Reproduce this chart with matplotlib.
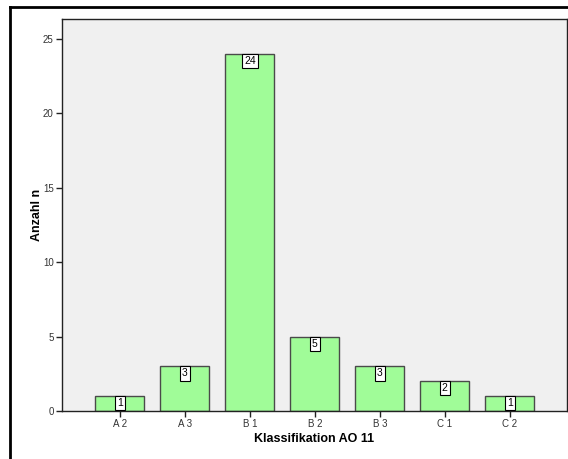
import matplotlib
matplotlib.use("Agg")
import matplotlib.pyplot as plt
from matplotlib.lines import Line2D

categories = ["A 2", "A 3", "B 1", "B 2", "B 3", "C 1", "C 2"]
counts = [1, 3, 24, 5, 3, 2, 1]
yticks = [0, 5, 10, 15, 20, 25]

plt.rcParams['font.family'] = ['Liberation Sans', 'DejaVu Sans']

fig = plt.figure(figsize=(5.68, 4.59), dpi=100)
ax = fig.add_axes([62/568, 1-411/459, 505/568, (411-19)/459])
ax.set_facecolor('#F0F0F0')

x = list(range(len(categories)))
ax.bar(x, counts, width=0.75, color='#A0FC98', edgecolor='#4a4a4a', linewidth=1.0, zorder=2)

for xi, c in zip(x, counts):
    ax.annotate(str(c), (xi, c), xytext=(0, -1.5), textcoords='offset points',
                ha='center', va='top', fontsize=7.5, zorder=3,
                bbox=dict(boxstyle='square,pad=0.2', facecolor='white', edgecolor='black', linewidth=0.8))

ax.set_xlim(-0.89, 6.88)
ax.set_ylim(0, 26.34)
ax.set_xticks(x)
ax.set_xticklabels(categories, fontsize=7, color='#333333')
ax.set_yticks(yticks)
ax.set_yticklabels([str(t) for t in yticks], fontsize=7, color='#333333')
ax.tick_params(axis='both', direction='out', length=4, width=1, colors='#222222', labelcolor='#333333', pad=2)
for s in ax.spines.values():
    s.set_color('#222222')
    s.set_linewidth(1.0)

ax.set_xlabel('Klassifikation AO 11', fontsize=9, fontweight='bold', labelpad=3)
ax.set_ylabel('Anzahl n', fontsize=9, fontweight='bold', labelpad=0)

# outer frame
fig.add_artist(Line2D([10/568, 1], [1-7/459, 1-7/459], color='black', lw=2, transform=fig.transFigure))
fig.add_artist(Line2D([10/568, 10/568], [0, 1-7/459], color='black', lw=2, transform=fig.transFigure))

fig.savefig('out.png', dpi=100)
